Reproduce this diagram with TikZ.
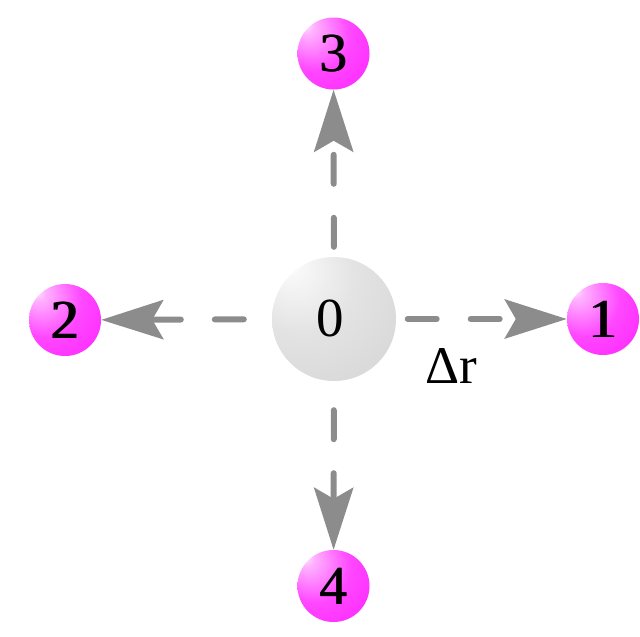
\documentclass[tikz,border=0pt]{standalone}
\usepackage{fontspec}
\setmainfont{Liberation Serif}
\usetikzlibrary{arrows.meta}
\definecolor{arrgray}{RGB}{140,140,140}
\pgfdeclareradialshading{graysphere}{\pgfpoint{-18bp}{22bp}}{color(0bp)=(white); color(4bp)=(black!3); color(22bp)=(black!11); color(45bp)=(black!16); color(62bp)=(black!24); color(80bp)=(black!30)}
\pgfdeclareradialshading{magsphere}{\pgfpoint{-20bp}{20bp}}{color(0bp)=(magenta!10!white); color(5bp)=(magenta!30!white); color(25bp)=(magenta!72!white); color(50bp)=(magenta!88!white); color(75bp)=(magenta!92!black)}
\newcommand\dbldigit[1]{\makebox[0pt][l]{#1}\kern1.5pt#1}
\begin{document}
\begin{tikzpicture}[x=1pt,y=-1pt,
  bigball/.style={circle,inner sep=0pt,minimum size=124pt,shading=graysphere},
  smallball/.style={circle,inner sep=0pt,minimum size=72pt,shading=magsphere},
  lbl/.style={font=\fontsize{55pt}{60pt}\selectfont,text=black,inner sep=0pt},
  arr/.style={draw=arrgray,line width=6pt,line cap=round,dash pattern=on 29pt off 34pt,
    -{Stealth[length=62pt,width=39pt,inset=11pt,fill=arrgray]}}]
\useasboundingbox (0,0) rectangle (640,637);
\node[bigball] (c) at (334,319) {};
\node[lbl] (t0) at (330,318) {0};
\node[smallball,lbl] (n1) at (603,319) {\dbldigit{1}};
\node[smallball,lbl] (n2) at (65,320) {\dbldigit{2}};
\node[smallball,lbl] (n3) at (333.5,53.5) {\dbldigit{3}};
\node[smallball,lbl] (n4) at (333.5,586) {\dbldigit{4}};
\draw[arr,shorten <=11.5pt] (c) -- (n1);
\draw[arr,shorten <=28pt] (c) -- (n2);
\draw[arr,shorten <=10pt] (c) -- (n3);
\draw[arr,shorten <=29pt] (c) -- (n4);
\node[lbl,font=\fontsize{53pt}{60pt}\selectfont] (dr) at (451,366) {Δr};
\end{tikzpicture}
\end{document}
